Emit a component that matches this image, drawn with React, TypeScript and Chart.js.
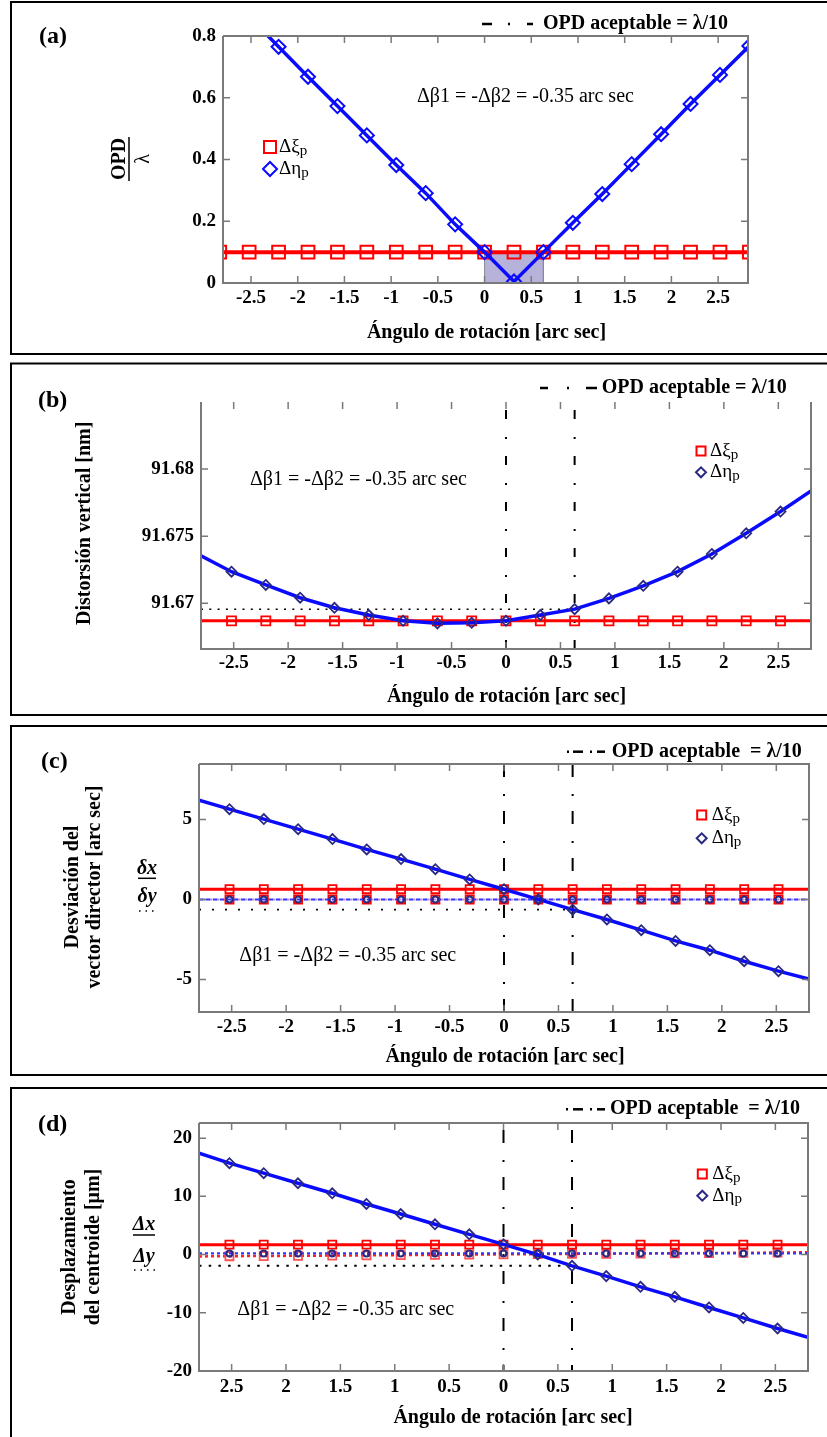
import React, { useEffect, useRef } from "react";
import { Chart, registerables } from "chart.js";

Chart.register(...registerables);

const SERIF = "'Liberation Serif', 'Times New Roman', serif";
const AXIS = "#7a7a7a";
const BLUE = "#0a0aff";
const NAVY = "#2a2a82";
const RED = "#ff0000";

// ---------- data ----------
const X_TICKS = [-2.5, -2, -1.5, -1, -0.5, 0, 0.5, 1, 1.5, 2, 2.5];
const X_LABELS = ["-2.5", "-2", "-1.5", "-1", "-0.5", "0", "0.5", "1", "1.5", "2", "2.5"];
const X_LABELS_D = ["2.5", "2", "1.5", "1", "0.5", "0", "0.5", "1", "1.5", "2", "2.5"];

// (a) marker positions and OPD/lambda values
const A_X = [-2.835, -2.52, -2.205, -1.89, -1.575, -1.26, -0.945, -0.63, -0.315, 0, 0.315, 0.63, 0.945, 1.26, 1.575, 1.89, 2.205, 2.52, 2.835];
const A_ETA = [0.96, 0.863, 0.765, 0.668, 0.573, 0.478, 0.382, 0.291, 0.19, 0.1, 0.005, 0.1, 0.195, 0.288, 0.385, 0.482, 0.58, 0.674, 0.768];
const A_XI = [0.1, 0.1, 0.1, 0.1, 0.1, 0.1, 0.1, 0.1, 0.1, 0.1, 0.1, 0.1, 0.1, 0.1, 0.1, 0.1, 0.1, 0.1, 0.1];
const A_LIMIT_X = [-2.8, 2.82];
const A_LIMIT_Y = [0.1, 0.1];
const A_SHADE_X = [0, 0, 0.63, 0.63];
const A_SHADE_Y = [0, 0.1, 0.1, 0];
const A_Y_TICKS = [0, 0.2, 0.4, 0.6, 0.8];
const A_Y_LABELS = ["0", "0.2", "0.4", "0.6", "0.8"];

// (b)-(d) line positions (edges + markers)
const X_LINE = [-2.8, -2.52, -2.205, -1.89, -1.575, -1.26, -0.945, -0.63, -0.315, 0, 0.315, 0.63, 0.945, 1.26, 1.575, 1.89, 2.205, 2.52, 2.8];
const LIMIT_VX = [0, 0.63];
const DOT_X = [-2.8, 0.63];

// (b) vertical distortion [nm]
const B_ETA = [91.67355, 91.67236, 91.67137, 91.67042, 91.66967, 91.66913, 91.6687, 91.66851, 91.66855, 91.6687, 91.66913, 91.66957, 91.67037, 91.67131, 91.67236, 91.67368, 91.67522, 91.67684, 91.67838];
const B_XI = [91.6687, 91.6687, 91.6687, 91.6687, 91.6687, 91.6687, 91.6687, 91.6687, 91.6687, 91.6687, 91.6687, 91.6687, 91.6687, 91.6687, 91.6687, 91.6687, 91.6687, 91.6687, 91.6687];
const B_DOT_Y = [91.66957, 91.66957];
const B_Y_TICKS = [91.67, 91.675, 91.68];
const B_Y_LABELS = ["91.67", "91.675", "91.68"];

// (c) director vector deviation [arc sec]
const C_ETA_DX = [6.2, 5.64, 5.02, 4.39, 3.77, 3.125, 2.52, 1.89, 1.25, 0.64, 0, -0.64, -1.25, -1.92, -2.59, -3.17, -3.86, -4.48, -4.98];
const C_ETA_DY = [0, 0, 0, 0, 0, 0, 0, 0, 0, 0, 0, 0, 0, 0, 0, 0, 0, 0, 0];
const C_XI_DX = [0.64, 0.64, 0.64, 0.64, 0.64, 0.64, 0.64, 0.64, 0.64, 0.64, 0.64, 0.64, 0.64, 0.64, 0.64, 0.64, 0.64, 0.64, 0.64];
const C_XI_DY = [0, 0, 0, 0, 0, 0, 0, 0, 0, 0, 0, 0, 0, 0, 0, 0, 0, 0, 0];
const C_DOT_Y = [-0.64, -0.64];
const C_Y_TICKS = [-5, 0, 5];
const C_Y_LABELS = ["-5", "0", "5"];

// (d) centroid displacement [um]
const D_ETA_DX = [17.4, 15.7, 13.98, 12.25, 10.53, 8.69, 6.97, 5.2, 3.48, 1.76, 0, -1.93, -3.7, -5.54, -7.26, -9.09, -10.88, -12.7, -14.2];
const D_ETA_DY = [0.2, 0.2, 0.2, 0.2, 0.2, 0.2, 0.2, 0.2, 0.2, 0.2, 0.2, 0.2, 0.2, 0.2, 0.2, 0.2, 0.2, 0.2, 0.2];
const D_XI_DX = [1.7, 1.7, 1.7, 1.7, 1.7, 1.7, 1.7, 1.7, 1.7, 1.7, 1.7, 1.7, 1.7, 1.7, 1.7, 1.7, 1.7, 1.7, 1.7];
const D_XI_DY = [-0.32, -0.28, -0.25, -0.21, -0.17, -0.13, -0.09, -0.05, -0.01, 0.03, 0.07, 0.11, 0.15, 0.19, 0.23, 0.27, 0.31, 0.35, 0.4];
const D_DOT_Y = [-1.93, -1.93];
const D_Y_TICKS = [-20, -10, 0, 10, 20];
const D_Y_LABELS = ["-20", "-10", "0", "10", "20"];

// ---------- helpers ----------
const font = (size: number, bold = false, italic = false) =>
  `${italic ? "italic " : ""}${bold ? "bold " : ""}${size}px ${SERIF}`;

function series(xs: number[], ys: number[], o: any) {
  return {
    data: xs.map((x, i) => ({ x, y: ys[i] })),
    pointRadius: 0,
    borderWidth: 2,
    fill: false,
    tension: 0,
    pointBackgroundColor: "rgba(0,0,0,0)",
    ...o,
  };
}
const inner = (r: number) => (c: any) => (c.dataIndex === 0 || c.dataIndex === 18 ? 0 : r);

function txt(ctx: CanvasRenderingContext2D, s: string, x: number, y: number, f: string, align: CanvasTextAlign = "left") {
  ctx.font = f;
  ctx.textAlign = align;
  ctx.textBaseline = "middle";
  ctx.fillStyle = "#000";
  ctx.fillText(s, x, y);
}
function vtxt(ctx: CanvasRenderingContext2D, s: string, x: number, y: number, f: string) {
  ctx.save();
  ctx.translate(x, y);
  ctx.rotate(-Math.PI / 2);
  txt(ctx, s, 0, 0, f, "center");
  ctx.restore();
}
function seg(ctx: CanvasRenderingContext2D, x1: number, y1: number, x2: number, y2: number, color: string, lw: number, dash: number[] = []) {
  ctx.save();
  ctx.strokeStyle = color;
  ctx.lineWidth = lw;
  ctx.setLineDash(dash);
  ctx.beginPath();
  ctx.moveTo(x1, y1);
  ctx.lineTo(x2, y2);
  ctx.stroke();
  ctx.restore();
}
function topLegend(ctx: CanvasRenderingContext2D, segs: number[][], y: number, tx: number, label: string) {
  segs.forEach(([a, b]) => seg(ctx, a, y, b, y, "#000", 2.5));
  txt(ctx, label, tx, y, font(20, true));
}
function subText(ctx: CanvasRenderingContext2D, main: string, sub: string, x: number, y: number, size: number) {
  txt(ctx, main, x, y, font(size));
  const w = ctx.measureText(main).width;
  txt(ctx, sub, x + w, y + size * 0.2, font(Math.round(size * 0.8)));
}
function square(ctx: CanvasRenderingContext2D, x: number, y: number, s: number, color: string, lw: number) {
  ctx.save();
  ctx.strokeStyle = color;
  ctx.lineWidth = lw;
  ctx.strokeRect(x - s / 2, y - s / 2, s, s);
  ctx.restore();
}
function diamond(ctx: CanvasRenderingContext2D, x: number, y: number, r: number, color: string, lw: number) {
  ctx.save();
  ctx.strokeStyle = color;
  ctx.lineWidth = lw;
  ctx.beginPath();
  ctx.moveTo(x - r, y);
  ctx.lineTo(x, y - r);
  ctx.lineTo(x + r, y);
  ctx.lineTo(x, y + r);
  ctx.closePath();
  ctx.stroke();
  ctx.restore();
}
function markerLegend(ctx: CanvasRenderingContext2D, x: number, y1: number, y2: number, tx: number, s: number, r: number, dcol: string, size: number) {
  square(ctx, x, y1, s, RED, 2);
  diamond(ctx, x, y2, r, dcol, 2);
  subText(ctx, "Δξ", "p", tx, y1, size);
  subText(ctx, "Δη", "p", tx, y2, size);
}

const ANNOT = "Δβ1 = -Δβ2 = -0.35 arc sec";
const XTITLE = "Ángulo de rotación [arc sec]";

interface PanelSpec {
  key: string;
  top: number;
  h: number;
  area: { left: number; right: number; top: number; bottom: number };
  box: { top: number; bottom: number };
  xMin: number;
  xMax: number;
  yMin: number;
  yMax: number;
  xPad: number;
  yTicks: number[];
  yLabels: string[];
  xLabels: string[];
  noTopAxis?: boolean;
  datasets: any[];
  draw: (ctx: CanvasRenderingContext2D) => void;
}

const PANELS: PanelSpec[] = [
  {
    key: "a",
    top: 0,
    h: 359,
    area: { left: 223, right: 748, top: 36, bottom: 283 },
    box: { top: 2, bottom: 354 },
    xMin: -2.8,
    xMax: 2.82,
    yMin: 0,
    yMax: 0.8,
    xPad: 4,
    yTicks: A_Y_TICKS,
    yLabels: A_Y_LABELS,
    xLabels: X_LABELS,
    datasets: [
      series(A_X, A_ETA, {
        borderColor: BLUE, borderWidth: 3.5, pointStyle: "rectRot", pointRadius: 7,
        pointBorderColor: BLUE, pointBorderWidth: 2,
      }),
      series(A_X, A_XI, {
        borderColor: RED, borderWidth: 4, pointStyle: "rect", pointRadius: 9,
        pointBorderColor: RED, pointBorderWidth: 2,
      }),
      series(A_LIMIT_X, A_LIMIT_Y, { borderColor: "#000", borderWidth: 2, borderDash: [10, 14, 2, 14] }),
      series(A_SHADE_X, A_SHADE_Y, { borderColor: "#8a8a9a", borderWidth: 1, fill: "origin", backgroundColor: "#b6b2d9" }),
    ],
    draw: (ctx) => {
      txt(ctx, "(a)", 39, 37, font(24, true));
      topLegend(ctx, [[482, 492], [508, 510], [527, 533]], 24, 543, "OPD aceptable = λ/10");
      txt(ctx, ANNOT, 417, 96.5, font(20));
      markerLegend(ctx, 270, 147, 169, 279, 12, 7, BLUE, 19);
      txt(ctx, XTITLE, 486.5, 333, font(20, true), "center");
      vtxt(ctx, "OPD", 120, 159, font(20, true));
      seg(ctx, 129, 137, 129, 181, "#000", 1.5);
      vtxt(ctx, "λ", 144, 159, font(20));
    },
  },
  {
    key: "b",
    top: 359,
    h: 361,
    area: { left: 201, right: 811, top: 43, bottom: 290 },
    box: { top: 4.5, bottom: 356 },
    xMin: -2.8,
    xMax: 2.8,
    yMin: 91.6666,
    yMax: 91.685,
    xPad: 3,
    yTicks: B_Y_TICKS,
    yLabels: B_Y_LABELS,
    xLabels: X_LABELS,
    noTopAxis: true,
    datasets: [
      series(X_LINE, B_ETA, {
        borderColor: BLUE, borderWidth: 3.5, pointStyle: "rectRot", pointRadius: inner(5),
        pointBorderColor: NAVY, pointBorderWidth: 1.8,
      }),
      series(X_LINE, B_XI, {
        borderColor: RED, borderWidth: 3, pointStyle: "rect", pointRadius: inner(6.4),
        pointBorderColor: RED, pointBorderWidth: 1.8,
      }),
      series(DOT_X, B_DOT_Y, { borderColor: "#000", borderWidth: 1.5, borderDash: [2, 6.3] }),
      series([LIMIT_VX[0], LIMIT_VX[0]], [91.685, 91.6666], { borderColor: "#000", borderWidth: 2, borderDash: [9, 18, 2, 17], borderDashOffset: 38 }),
      series([LIMIT_VX[1], LIMIT_VX[1]], [91.685, 91.6666], { borderColor: "#000", borderWidth: 2, borderDash: [9, 18, 2, 17], borderDashOffset: 38 }),
    ],
    draw: (ctx) => {
      txt(ctx, "(b)", 38, 42, font(24, true));
      topLegend(ctx, [[540, 548], [567, 569], [586, 597]], 29, 601.7, "OPD aceptable = λ/10");
      txt(ctx, ANNOT, 250, 121, font(20));
      markerLegend(ctx, 701, 92, 113.3, 710, 9, 5, NAVY, 19);
      txt(ctx, XTITLE, 506.5, 337.7, font(20, true), "center");
      vtxt(ctx, "Distorsión vertical [nm]", 85, 164.3, font(20, true));
    },
  },
  {
    key: "c",
    top: 720,
    h: 362,
    area: { left: 199, right: 809, top: 44, bottom: 292 },
    box: { top: 6, bottom: 355 },
    xMin: -2.8,
    xMax: 2.8,
    yMin: -7.03,
    yMax: 8.46,
    xPad: 4,
    yTicks: C_Y_TICKS,
    yLabels: C_Y_LABELS,
    xLabels: X_LABELS,
    datasets: [
      series(X_LINE, C_ETA_DX, {
        borderColor: BLUE, borderWidth: 3.5, pointStyle: "rectRot", pointRadius: inner(5),
        pointBorderColor: NAVY, pointBorderWidth: 1.8,
      }),
      series(X_LINE, C_ETA_DY, {
        borderColor: "#3434ff", borderWidth: 2, borderDash: [4, 3], pointStyle: "circle", pointRadius: inner(3),
        pointBorderColor: NAVY, pointBorderWidth: 2,
      }),
      series(X_LINE, C_XI_DX, {
        borderColor: RED, borderWidth: 3, pointStyle: "rect", pointRadius: inner(5.7),
        pointBorderColor: RED, pointBorderWidth: 1.8,
      }),
      series(X_LINE, C_XI_DY, {
        borderColor: "#b48ce6", borderWidth: 2, borderDash: [3, 4], borderDashOffset: 3.5, pointStyle: "rect", pointRadius: inner(5.7),
        pointBorderColor: RED, pointBorderWidth: 1.8,
      }),
      series(DOT_X, C_DOT_Y, { borderColor: "#000", borderWidth: 1.8, borderDash: [2, 11] }),
      series([LIMIT_VX[0], LIMIT_VX[0]], [8.46, -7.03], { borderColor: "#000", borderWidth: 2, borderDash: [13, 17, 2, 15] }),
      series([LIMIT_VX[1], LIMIT_VX[1]], [8.46, -7.03], { borderColor: "#000", borderWidth: 2, borderDash: [13, 17, 2, 15] }),
    ],
    draw: (ctx) => {
      txt(ctx, "(c)", 41, 42, font(24, true));
      topLegend(ctx, [[567, 569], [573, 583], [590, 592], [597, 605]], 31.7, 611.7, "OPD aceptable  = λ/10");
      txt(ctx, ANNOT, 239.3, 235.7, font(20));
      markerLegend(ctx, 701.7, 95, 118.3, 711.7, 9, 5, NAVY, 19);
      txt(ctx, XTITLE, 505, 336.7, font(20, true), "center");
      vtxt(ctx, "Desviación del", 72.5, 167, font(20, true));
      vtxt(ctx, "vector director [arc sec]", 95, 167, font(20, true));
      txt(ctx, "δx", 147, 149, font(20, true, true), "center");
      seg(ctx, 138, 158.3, 156, 158.3, "#000", 1.5);
      txt(ctx, "δy", 147, 177, font(20, true, true), "center");
      seg(ctx, 139, 191, 157, 191, "#000", 1.5, [1.5, 5]);
    },
  },
  {
    key: "d",
    top: 1082,
    h: 355,
    area: { left: 199, right: 808, top: 41, bottom: 289 },
    box: { top: 6, bottom: 400 },
    xMin: -2.8,
    xMax: 2.8,
    yMin: -20,
    yMax: 22.6,
    xPad: 5,
    yTicks: D_Y_TICKS,
    yLabels: D_Y_LABELS,
    xLabels: X_LABELS_D,
    datasets: [
      series(X_LINE, D_ETA_DX, {
        borderColor: BLUE, borderWidth: 3.5, pointStyle: "rectRot", pointRadius: inner(5),
        pointBorderColor: NAVY, pointBorderWidth: 1.8,
      }),
      series(X_LINE, D_ETA_DY, {
        borderColor: "#3434ff", borderWidth: 2.2, borderDash: [3, 3], pointStyle: "circle", pointRadius: inner(3),
        pointBorderColor: NAVY, pointBorderWidth: 2,
      }),
      series(X_LINE, D_XI_DX, {
        borderColor: RED, borderWidth: 3, pointStyle: "rect", pointRadius: inner(5.7),
        pointBorderColor: RED, pointBorderWidth: 1.8,
      }),
      series(X_LINE, D_XI_DY, {
        borderColor: "#ff2020", borderWidth: 2.5, borderDash: [3, 3], pointStyle: "rect", pointRadius: inner(5.7),
        pointBorderColor: "#ff5050", pointBorderWidth: 1.8,
      }),
      series(DOT_X, D_DOT_Y, { borderColor: "#000", borderWidth: 2, borderDash: [2.5, 7.2] }),
      series([LIMIT_VX[0], LIMIT_VX[0]], [22.6, -20], { borderColor: "#000", borderWidth: 2, borderDash: [13, 17, 2, 15], borderDashOffset: 40 }),
      series([LIMIT_VX[1], LIMIT_VX[1]], [22.6, -20], { borderColor: "#000", borderWidth: 2, borderDash: [13, 17, 2, 15], borderDashOffset: 40 }),
    ],
    draw: (ctx) => {
      txt(ctx, "(d)", 38, 42.7, font(24, true));
      topLegend(ctx, [[566, 568], [573, 583], [590, 592], [597, 605]], 27.3, 610, "OPD aceptable  = λ/10");
      txt(ctx, ANNOT, 237.3, 228, font(20));
      markerLegend(ctx, 702.3, 92, 113.7, 712.3, 9, 5, NAVY, 19);
      txt(ctx, XTITLE, 513, 336.3, font(20, true), "center");
      vtxt(ctx, "Desplazamiento", 69.5, 165, font(20, true));
      vtxt(ctx, "del centroide [μm]", 94, 165, font(20, true));
      txt(ctx, "Δx", 144, 143, font(20, true, true), "center");
      seg(ctx, 133, 153, 155, 153, "#000", 1.5);
      txt(ctx, "Δy", 144, 174.7, font(20, true, true), "center");
      seg(ctx, 134, 188, 156, 188, "#000", 1.5, [1.5, 5]);
    },
  },
];

function framePlugin(p: PanelSpec) {
  return {
    id: "frame_" + p.key,
    afterDraw(chart: any) {
      const ctx = chart.ctx as CanvasRenderingContext2D;
      const { left, right, top, bottom } = chart.chartArea;
      const xs = chart.scales.x;
      const ys = chart.scales.y;
      ctx.save();
      ctx.strokeStyle = AXIS;
      ctx.lineWidth = 1.5;
      ctx.setLineDash([]);
      ctx.beginPath();
      X_TICKS.forEach((v) => {
        const px = xs.getPixelForValue(v);
        ctx.moveTo(px, bottom);
        ctx.lineTo(px, bottom - 7);
        ctx.moveTo(px, top);
        ctx.lineTo(px, top + 7);
      });
      p.yTicks.forEach((v) => {
        const py = ys.getPixelForValue(v);
        ctx.moveTo(left, py);
        ctx.lineTo(left + 7, py);
        ctx.moveTo(right, py);
        ctx.lineTo(right - 7, py);
      });
      ctx.stroke();
      ctx.lineWidth = 2;
      ctx.beginPath();
      ctx.moveTo(left, top);
      ctx.lineTo(left, bottom);
      ctx.lineTo(right, bottom);
      ctx.lineTo(right, top);
      if (!p.noTopAxis) ctx.lineTo(left, top);
      ctx.stroke();
      ctx.strokeStyle = "#000";
      ctx.lineWidth = 2;
      ctx.strokeRect(11, p.box.top, 840, p.box.bottom - p.box.top);
      ctx.restore();
      p.draw(ctx);
    },
  };
}

function buildConfig(p: PanelSpec): any {
  const tickFont = { family: SERIF, size: 19, weight: "bold" };
  return {
    type: "line",
    data: { datasets: p.datasets },
    options: {
      responsive: false,
      maintainAspectRatio: false,
      animation: false,
      events: [],
      layout: {
        padding: {
          left: p.area.left - 60,
          right: 827 - p.area.right,
          top: p.area.top,
          bottom: p.h - p.area.bottom - 40,
        },
      },
      plugins: { legend: { display: false }, tooltip: { enabled: false }, title: { display: false } },
      scales: {
        x: {
          type: "linear",
          position: "bottom",
          min: p.xMin,
          max: p.xMax,
          grid: { display: false, drawTicks: false },
          border: { display: false },
          afterBuildTicks: (s: any) => {
            s.ticks = X_TICKS.map((v) => ({ value: v }));
          },
          afterFit: (s: any) => {
            s.height = 40;
          },
          ticks: {
            autoSkip: false,
            maxRotation: 0,
            minRotation: 0,
            padding: p.xPad,
            color: "#000",
            font: tickFont,
            callback: (_v: any, i: number) => p.xLabels[i],
          },
        },
        y: {
          type: "linear",
          position: "left",
          min: p.yMin,
          max: p.yMax,
          grid: { display: false, drawTicks: false },
          border: { display: false },
          afterBuildTicks: (s: any) => {
            s.ticks = p.yTicks.map((v) => ({ value: v }));
          },
          afterFit: (s: any) => {
            s.width = 60;
          },
          ticks: {
            autoSkip: false,
            padding: 7,
            color: "#000",
            font: tickFont,
            callback: (_v: any, i: number) => p.yLabels[i],
          },
        },
      },
    },
    plugins: [framePlugin(p)],
  };
}

function Panel({ p }: { p: PanelSpec }) {
  const ref = useRef<HTMLCanvasElement>(null);
  useEffect(() => {
    if (!ref.current) return;
    const chart = new Chart(ref.current, buildConfig(p));
    return () => chart.destroy();
  }, [p]);
  return (
    <canvas
      ref={ref}
      width={827}
      height={p.h}
      style={{ position: "absolute", left: 0, top: p.top, width: 827, height: p.h, display: "block" }}
    />
  );
}

export default function App() {
  return (
    <div
      style={{
        position: "absolute",
        left: 0,
        top: 0,
        width: 827,
        height: 1437,
        background: "#fff",
        overflow: "hidden",
      }}
    >
      {PANELS.map((p) => (
        <Panel key={p.key} p={p} />
      ))}
    </div>
  );
}
